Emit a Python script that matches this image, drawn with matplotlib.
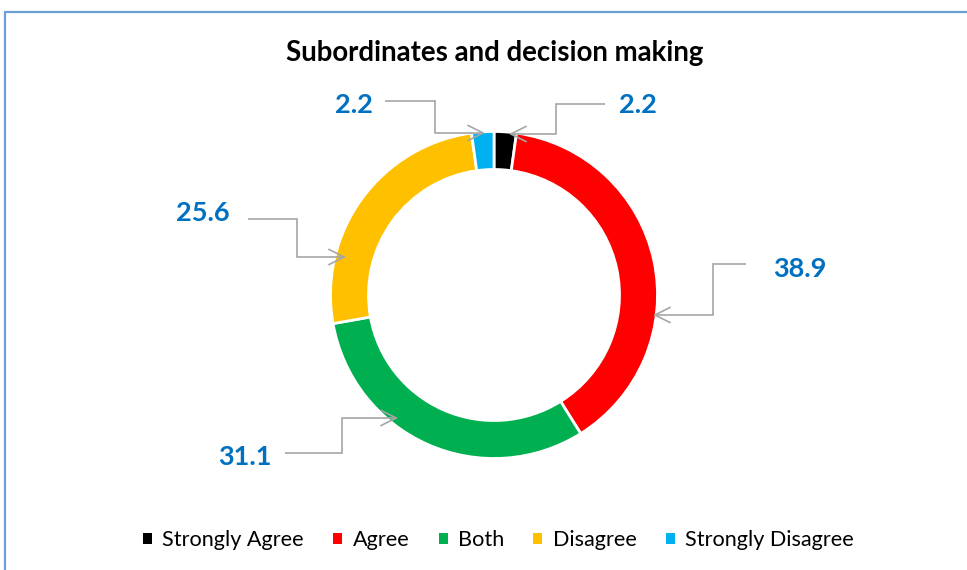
import matplotlib
matplotlib.use("Agg")
import matplotlib.pyplot as plt
from matplotlib.patches import Rectangle, Patch

# --- data ---------------------------------------------------------------
categories = ["Strongly Agree", "Agree", "Both", "Disagree", "Strongly Disagree"]
values = [2.2, 38.9, 31.1, 25.6, 2.2]
colors = ["#000000", "#FF0000", "#00B050", "#FFC000", "#00B0F0"]
title = "Subordinates and decision making"

# --- layout (pixel space, y measured from the top) ----------------------
W, H = 967, 570
CX, CY, R, RING = 494, 295, 163.5, 38

# label text anchor (centre x, baseline y) and elbow leader path ending at the ring
label_pos = [(638, 113), (800, 277), (245, 465), (203, 221), (354, 113)]
leader_paths = [
    [(605, 104), (556, 104), (556, 134), (509, 134)],
    [(746, 264), (713, 264), (713, 315), (653, 315)],
    [(285, 453), (342, 453), (342, 418), (398, 418)],
    [(248, 219), (297, 219), (297, 257), (346, 257)],
    [(385, 101), (435, 101), (435, 133), (485, 133)],
]

LABEL_COLOR = "#0070C0"
LEADER_COLOR = "#A6A6A6"
FONT = "Lato"


def fy(y):
    """Convert a top-down pixel y to the axes' bottom-up data y."""
    return H - y


fig = plt.figure(figsize=(W / 100, H / 100), dpi=100)
fig.patch.set_facecolor("white")
ax = fig.add_axes([0, 0, 1, 1])

wedges, _ = ax.pie(
    values,
    colors=colors,
    startangle=90,
    counterclock=False,
    radius=R,
    center=(CX, fy(CY)),
    wedgeprops=dict(width=RING, edgecolor="white", linewidth=2.0),
)
ax.set_xlim(0, W)
ax.set_ylim(0, H)
ax.set_aspect("equal")
ax.axis("off")

# data labels with elbow leader lines
for val, (tx, ty), path in zip(values, label_pos, leader_paths):
    ax.text(tx, fy(ty), f"{val:.1f}", ha="center", va="baseline",
            fontsize=19.5, fontweight="bold", color=LABEL_COLOR, family=FONT)
    xs = [p[0] for p in path[:-1]]
    ys = [fy(p[1]) for p in path[:-1]]
    ax.plot(xs, ys, color=LEADER_COLOR, lw=1.2, solid_capstyle="butt",
            solid_joinstyle="miter")
    (x0, y0), (x1, y1) = path[-2], path[-1]
    ax.annotate("", xy=(x1, fy(y1)), xytext=(x0, fy(y0)),
                arrowprops=dict(arrowstyle="->,head_length=1.1,head_width=0.55",
                                color=LEADER_COLOR, lw=1.2, mutation_scale=10,
                                shrinkA=0, shrinkB=0))

# title
ax.text(494.5, fy(61), title, ha="center", va="baseline",
        fontsize=19.9, fontweight="bold", color="black", family=FONT)

# legend along the bottom
handles = [Patch(facecolor=c, edgecolor="none") for c in colors]
leg = ax.legend(handles, categories, loc="center", bbox_to_anchor=(498.5 / W, 1 - 540 / H),
                ncol=5, frameon=False, handlelength=0.42, handleheight=0.42,
                handletextpad=0.47, columnspacing=1.35,
                prop=dict(family=FONT, size=15.6))

# chart-area frame
frame = Rectangle((5 / W, -0.05), 1.1, 1 - 12 / H + 0.05, transform=fig.transFigure,
                  fill=False, edgecolor="#6A9FD8", linewidth=1.6, clip_on=False)
fig.add_artist(frame)

fig.savefig("out.png", dpi=100)
